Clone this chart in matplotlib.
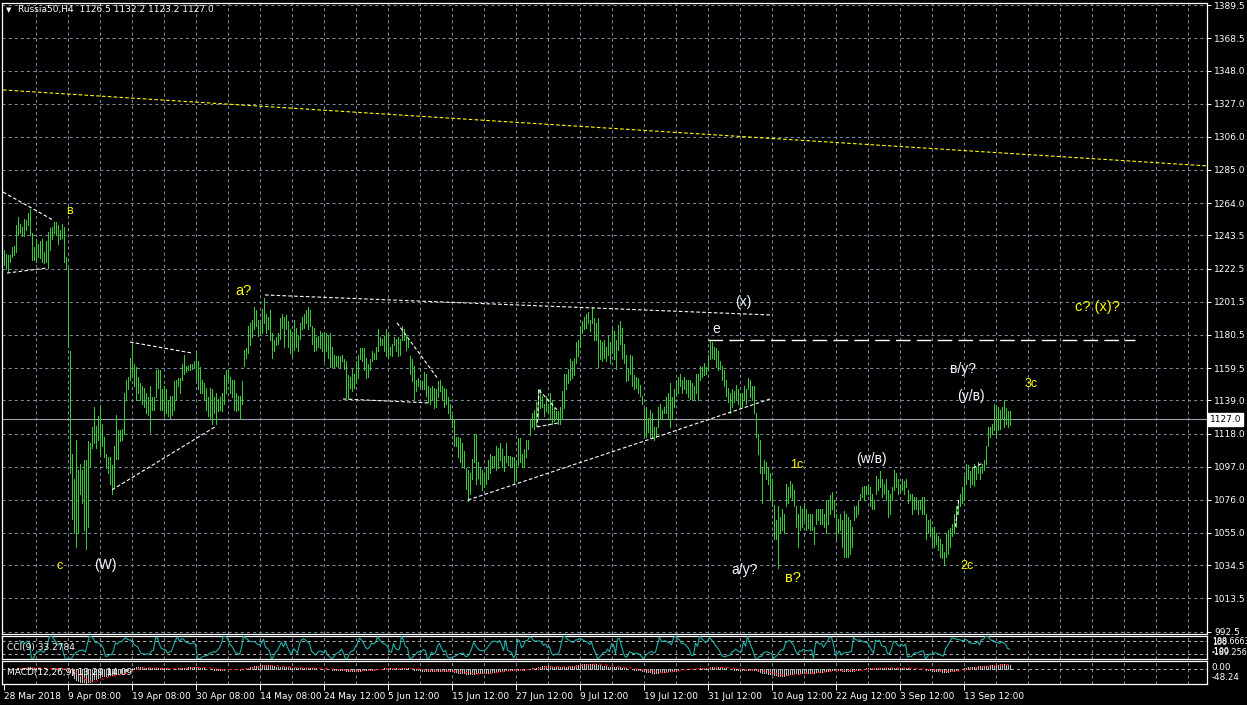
import numpy as np
import pandas as pd
import matplotlib
matplotlib.use("Agg")
import matplotlib.pyplot as plt
import matplotlib.transforms as mtransforms

# H4 bars (one entry per bar, left to right)
HIGHS = [
    1234, 1232, 1231, 1231, 1236, 1237, 1250, 1255, 1251, 1249,
    1254, 1253, 1258, 1260, 1245, 1236, 1241, 1238, 1240, 1241,
    1233, 1240, 1246, 1248, 1249, 1252, 1252, 1250, 1247, 1251,
    1249, 1230, 1223, 1170, 1105, 1089, 1114, 1095, 1099, 1095,
    1101, 1101, 1113, 1112, 1122, 1135, 1123, 1129, 1136, 1124,
    1116, 1105, 1103, 1103, 1098, 1110, 1130, 1120, 1120, 1121,
    1144, 1152, 1154, 1166, 1176, 1162, 1160, 1154, 1150, 1148,
    1147, 1144, 1141, 1148, 1141, 1141, 1158, 1159, 1158, 1146,
    1148, 1146, 1139, 1142, 1142, 1151, 1152, 1153, 1153, 1162,
    1168, 1161, 1161, 1162, 1162, 1164, 1170, 1164, 1160, 1152,
    1150, 1147, 1141, 1147, 1146, 1141, 1144, 1140, 1141, 1144,
    1155, 1158, 1158, 1154, 1152, 1152, 1144, 1142, 1142, 1151,
    1171, 1172, 1186, 1188, 1190, 1198, 1196, 1190, 1188, 1197,
    1204, 1194, 1192, 1196, 1182, 1177, 1179, 1182, 1191, 1194,
    1192, 1193, 1189, 1184, 1182, 1190, 1185, 1180, 1188, 1192,
    1194, 1196, 1198, 1196, 1186, 1185, 1179, 1180, 1183, 1182,
    1182, 1182, 1180, 1182, 1173, 1168, 1167, 1167, 1167, 1168,
    1165, 1164, 1155, 1154, 1159, 1156, 1164, 1168, 1172, 1172,
    1172, 1166, 1162, 1165, 1170, 1169, 1173, 1184, 1179, 1178,
    1180, 1184, 1182, 1173, 1175, 1179, 1178, 1179, 1178, 1186,
    1184, 1180, 1178, 1167, 1165, 1161, 1152, 1153, 1152, 1151,
    1157, 1156, 1148, 1147, 1148, 1147, 1146, 1151, 1152, 1148,
    1147, 1146, 1141, 1137, 1130, 1127, 1116, 1116, 1115, 1112,
    1107, 1096, 1095, 1093, 1102, 1118, 1118, 1100, 1096, 1095,
    1093, 1096, 1101, 1105, 1104, 1104, 1110, 1109, 1112, 1108,
    1104, 1112, 1104, 1104, 1103, 1103, 1101, 1115, 1115, 1105,
    1108, 1114, 1114, 1127, 1131, 1133, 1138, 1146, 1146, 1142,
    1137, 1142, 1137, 1144, 1139, 1134, 1132, 1132, 1135, 1145,
    1156, 1156, 1159, 1165, 1164, 1166, 1176, 1177, 1186, 1189,
    1192, 1194, 1195, 1190, 1198, 1191, 1188, 1191, 1177, 1176,
    1177, 1173, 1180, 1176, 1184, 1183, 1177, 1187, 1189, 1185,
    1175, 1168, 1159, 1168, 1167, 1155, 1154, 1153, 1149, 1142,
    1134, 1135, 1128, 1133, 1131, 1122, 1122, 1135, 1137, 1133,
    1135, 1141, 1144, 1150, 1141, 1146, 1152, 1154, 1156, 1152,
    1154, 1152, 1152, 1152, 1150, 1148, 1156, 1156, 1161, 1160,
    1163, 1160, 1168, 1177, 1176, 1173, 1172, 1170, 1164, 1161,
    1158, 1152, 1147, 1144, 1146, 1145, 1149, 1146, 1144, 1144,
    1148, 1146, 1153, 1152, 1148, 1148, 1131, 1118, 1114, 1097,
    1101, 1100, 1097, 1093, 1089, 1073, 1063, 1072, 1065, 1070,
    1067, 1086, 1084, 1088, 1086, 1082, 1072, 1067, 1072, 1070,
    1072, 1070, 1067, 1067, 1067, 1059, 1070, 1070, 1070, 1070,
    1067, 1076, 1076, 1079, 1081, 1076, 1067, 1064, 1067, 1063,
    1069, 1067, 1065, 1063, 1059, 1072, 1072, 1075, 1080, 1084,
    1085, 1085, 1086, 1084, 1080, 1076, 1091, 1089, 1094, 1089,
    1086, 1089, 1082, 1080, 1084, 1095, 1093, 1089, 1086, 1089,
    1088, 1089, 1082, 1080, 1080, 1078, 1078, 1076, 1075, 1078,
    1078, 1067, 1063, 1064, 1059, 1059, 1055, 1053, 1051, 1048,
    1043, 1055, 1057, 1058, 1061, 1067, 1072, 1076, 1080, 1084,
    1091, 1099, 1098, 1094, 1097, 1099, 1097, 1100, 1097, 1099,
    1101, 1110, 1122, 1122, 1124, 1137, 1136, 1135, 1133, 1135,
    1139, 1134, 1132, 1132.2,
]

LOWS = [
    1225, 1222, 1221, 1227, 1230, 1231, 1233, 1244, 1245, 1243,
    1243, 1247, 1250, 1244, 1228, 1228, 1227, 1230, 1229, 1227,
    1226, 1227, 1223, 1234, 1241, 1245, 1244, 1238, 1241, 1242,
    1227, 1222, 1173, 1093, 1064, 1055, 1046, 1055, 1080, 1074,
    1057, 1045, 1059, 1097, 1109, 1112, 1109, 1114, 1105, 1110,
    1103, 1096, 1093, 1086, 1080, 1084, 1102, 1102, 1113, 1114,
    1118, 1139, 1146, 1152, 1154, 1148, 1139, 1144, 1139, 1137,
    1135, 1131, 1130, 1119, 1133, 1133, 1141, 1147, 1133, 1133,
    1129, 1131, 1129, 1128, 1130, 1133, 1139, 1148, 1144, 1152,
    1156, 1157, 1158, 1158, 1159, 1160, 1152, 1146, 1144, 1144,
    1139, 1133, 1129, 1127, 1124, 1131, 1124, 1132, 1133, 1132,
    1137, 1144, 1152, 1144, 1141, 1133, 1132, 1133, 1128, 1137,
    1161, 1166, 1169, 1174, 1179, 1184, 1186, 1180, 1182, 1182,
    1188, 1182, 1184, 1177, 1166, 1170, 1174, 1175, 1178, 1185,
    1173, 1184, 1173, 1169, 1167, 1171, 1173, 1170, 1178, 1184,
    1185, 1188, 1184, 1186, 1175, 1170, 1171, 1173, 1172, 1170,
    1164, 1170, 1166, 1160, 1160, 1160, 1161, 1160, 1160, 1164,
    1159, 1141, 1140, 1147, 1145, 1147, 1150, 1153, 1165, 1164,
    1158, 1153, 1154, 1158, 1164, 1165, 1165, 1170, 1174, 1174,
    1170, 1167, 1166, 1168, 1167, 1174, 1170, 1167, 1168, 1177,
    1177, 1171, 1173, 1156, 1151, 1140, 1145, 1148, 1148, 1146,
    1146, 1142, 1138, 1137, 1140, 1134, 1135, 1141, 1145, 1139,
    1135, 1137, 1131, 1127, 1122, 1110, 1110, 1103, 1100, 1097,
    1096, 1083, 1075, 1080, 1089, 1100, 1086, 1090, 1086, 1082,
    1084, 1086, 1089, 1093, 1096, 1097, 1095, 1096, 1101, 1097,
    1094, 1100, 1098, 1097, 1097, 1086, 1089, 1098, 1100, 1097,
    1097, 1103, 1108, 1117, 1122, 1121, 1124, 1128, 1134, 1135,
    1129, 1132, 1131, 1127, 1124, 1126, 1127, 1124, 1124, 1128,
    1134, 1146, 1150, 1152, 1153, 1155, 1163, 1167, 1173, 1182,
    1184, 1185, 1188, 1183, 1188, 1177, 1177, 1160, 1165, 1164,
    1166, 1164, 1168, 1163, 1169, 1165, 1159, 1171, 1175, 1166,
    1163, 1151, 1152, 1156, 1148, 1146, 1147, 1144, 1142, 1137,
    1116, 1116, 1119, 1115, 1116, 1114, 1116, 1122, 1127, 1127,
    1131, 1131, 1127, 1122, 1127, 1135, 1142, 1144, 1148, 1144,
    1146, 1144, 1141, 1140, 1139, 1139, 1144, 1139, 1152, 1154,
    1155, 1156, 1158, 1165, 1166, 1165, 1160, 1158, 1159, 1152,
    1148, 1142, 1138, 1131, 1135, 1138, 1140, 1137, 1134, 1135,
    1139, 1137, 1146, 1141, 1139, 1131, 1116, 1105, 1093, 1074,
    1093, 1089, 1086, 1076, 1072, 1051, 1051, 1033, 1055, 1057,
    1055, 1072, 1074, 1078, 1076, 1072, 1059, 1046, 1057, 1059,
    1063, 1057, 1058, 1057, 1057, 1048, 1061, 1063, 1061, 1061,
    1059, 1055, 1061, 1067, 1070, 1065, 1051, 1055, 1057, 1046,
    1040, 1040, 1040, 1042, 1046, 1063, 1065, 1067, 1076, 1078,
    1076, 1080, 1080, 1072, 1070, 1070, 1080, 1082, 1084, 1078,
    1080, 1076, 1065, 1067, 1076, 1082, 1084, 1080, 1081, 1082,
    1080, 1084, 1074, 1076, 1067, 1070, 1070, 1067, 1070, 1067,
    1067, 1051, 1055, 1053, 1046, 1046, 1048, 1044, 1040, 1039,
    1035, 1040, 1042, 1046, 1053, 1055, 1059, 1067, 1072, 1074,
    1076, 1086, 1089, 1084, 1086, 1085, 1089, 1093, 1089, 1093,
    1095, 1099, 1110, 1116, 1118, 1120, 1116, 1120, 1121, 1127,
    1122, 1124, 1122, 1123.2,
]

PRICE_TICKS = [992.5, 1013.5, 1034.5, 1055.0, 1076.0, 1097.0, 1118.0, 1139.0,
               1159.5, 1180.5, 1201.5, 1222.5, 1243.5, 1264.0, 1285.0, 1306.0,
               1327.0, 1348.0, 1368.5, 1389.5]
DATE_LABELS = ["28 Mar 2018", "9 Apr 08:00", "19 Apr 08:00", "30 Apr 08:00",
               "14 May 08:00", "24 May 12:00", "5 Jun 12:00", "15 Jun 12:00",
               "27 Jun 12:00", "9 Jul 12:00", "19 Jul 12:00", "31 Jul 12:00",
               "10 Aug 12:00", "22 Aug 12:00", "3 Sep 12:00", "13 Sep 12:00"]
LAST_PRICE = 1127.0
HEADER = "Russia50,H4  1126.5 1132.2 1123.2 1127.0"
CCI_TITLE = "CCI(9) 33.2784"
MACD_TITLE = "MACD(12,26,9) 13.29 14.09"
CCI_RANGE = (-189.256, 188.6663)
CCI_SCALE = ["188.6663", "100", "-100", "-189.256"]
MACD_RANGE = (-48.24, 26.0)
MACD_SCALE = ["0.00", "-48.24"]

# analyst's drawings: (bar, price, bar, price)
WHITE_TRENDS = [
    (-0.25, 1271.0, 24.75, 1253.3),
    (1.75, 1219.7, 21.75, 1222.9),
    (63.25, 1176.0, 94.25, 1169.0),
    (54.25, 1082.3, 105.75, 1122.2),
    (130.75, 1205.8, 384.25, 1193.1),
    (169.75, 1139.9, 213.25, 1137.4),
    (196.75, 1188.1, 217.25, 1152.6),
    (232.25, 1075.9, 383.25, 1139.9),
    (267.75, 1145.6, 266.75, 1122.2),
    (266.75, 1122.2, 277.25, 1124.7),
    (267.75, 1145.6, 276.75, 1133.0),
    (476.0, 1059.0, 477.6, 1076.0),
    (484.75, 1096.2, 489.75, 1099.4),
]
YELLOW_TREND = (-0.25, 1335.7, 601.75, 1287.6)
E_LEVEL = (352.25, 565.75, 1177.3)

YELLOW_LABELS = [("в", 32.75, 1259.0), ("c", 28.25, 1034.1), ("a?", 119.75, 1208.3),
                 ("c? (x)?", 546.75, 1198.2), ("3c", 513.75, 1149.4),
                 ("1c", 396.75, 1098.1), ("в?", 394.75, 1026.5), ("2c", 481.75, 1034.1)]
WHITE_LABELS = [("(W)", 50.75, 1034.7), ("(x)", 369.75, 1201.4), ("e", 356.25, 1184.2),
                ("в/y?", 479.75, 1158.9), ("(y/в)", 483.75, 1141.8),
                ("(w/в)", 433.75, 1101.9), ("a/y?", 370.75, 1031.6)]
SMALL_LABELS = {"в", "c", "1c", "2c", "3c"}

GRID = "#778899"
BAR = "#32CD32"
FONT = "DejaVu Sans"
LABEL_FONT = "Liberation Sans"

plt.rcParams["lines.scale_dashes"] = False

high = np.array(HIGHS, dtype=float)
low = np.array(LOWS, dtype=float)
idx = np.arange(len(high))

# indicators computed from the bars (mid price stands in for the close)
mid = pd.Series((high + low) / 2)
sma = mid.rolling(9).mean()
mad = mid.rolling(9).apply(lambda x: np.mean(np.abs(x - x.mean())), raw=True)
cci = (mid - sma) / (0.015 * mad)
macd = mid.ewm(span=12, adjust=False).mean() - mid.ewm(span=26, adjust=False).mean()
signal = macd.rolling(9).mean()

W, H = 1247, 705


def box(left, top, right, bottom):
    return [left / W, 1 - bottom / H, (right - left) / W, (bottom - top) / H]


fig = plt.figure(figsize=(W / 100, H / 100), dpi=100, facecolor="black")
ax = fig.add_axes(box(2, 3, 1207, 634))
ax_cci = fig.add_axes(box(2, 636, 1207, 659), sharex=ax)
ax_macd = fig.add_axes(box(2, 661, 1207, 684), sharex=ax)

for a in (ax, ax_cci, ax_macd):
    a.set_facecolor("black")
    for s in a.spines.values():
        s.set_color("white")
        s.set_linewidth(0.9)
    for gx in range(16, 600, 16):
        a.axvline(gx, color=GRID, lw=0.75, ls=(0, (2.2, 2.2)), zorder=0)
    a.tick_params(axis="both", colors="white", labelsize=6.5, width=0.7, length=3)

ax.set_xlim(-0.75, 601.75)
ax.set_ylim(991.0, 1390.8)

for gy in PRICE_TICKS:
    ax.axhline(gy, color=GRID, lw=0.75, ls=(0, (2.2, 2.2)), zorder=0)
ax.yaxis.tick_right()
ax.set_yticks(PRICE_TICKS)
ax.set_yticklabels([f"{p:.1f}" for p in PRICE_TICKS], fontfamily=FONT)
ax.tick_params(axis="y", pad=2)
ax.tick_params(axis="x", bottom=False, labelbottom=False)

ax.vlines(idx, low, high, colors=BAR, lw=0.5, antialiased=False, zorder=3)

# last price line and marker
ax.axhline(LAST_PRICE, color="#9aa3ad", lw=0.8, zorder=2)
bt = mtransforms.blended_transform_factory(ax.transAxes, ax.transData)
ax.text(1.0025, LAST_PRICE, f"{LAST_PRICE:.1f}", transform=bt, ha="left", va="center",
        color="black", fontsize=6.5, fontfamily=FONT,
        bbox=dict(facecolor="white", edgecolor="white", pad=1.3), zorder=6)

for x0, y0, x1, y1 in WHITE_TRENDS:
    ax.plot([x0, x1], [y0, y1], color="white", lw=0.8, ls=(0, (2.6, 1.6)), zorder=4)
x0, y0, x1, y1 = YELLOW_TREND
ax.plot([x0, x1], [y0, y1], color="#FFFF00", lw=0.8, ls=(0, (2.6, 1.6)), zorder=4)
ax.plot([E_LEVEL[0], E_LEVEL[1]], [E_LEVEL[2], E_LEVEL[2]], color="white", lw=1.0,
        ls=(0, (10.5, 4.5)), zorder=4)

for text, bx, py in YELLOW_LABELS:
    size = 9 if text in SMALL_LABELS else 10.5
    ax.text(bx, py, text, color="#FFFF00", fontsize=size, fontfamily=LABEL_FONT,
            ha="center", va="center", zorder=5)
for text, bx, py in WHITE_LABELS:
    ax.text(bx, py, text, color="#F4F8FF", fontsize=10, fontfamily=LABEL_FONT,
            ha="center", va="center", zorder=5)

ax.text(0.0035, 0.989, "\u25BC", transform=ax.transAxes, color="white", fontsize=5,
        fontfamily=FONT, ha="left", va="center")
ax.text(0.013, 0.989, HEADER, transform=ax.transAxes, color="white", fontsize=6.5,
        fontfamily=FONT, ha="left", va="center")

# CCI panel
ax_cci.set_ylim(*CCI_RANGE)
for lvl in (100, -100):
    ax_cci.axhline(lvl, color="#b0b0b0", lw=0.75, ls=(0, (2.2, 2.2)), zorder=0)
ax_cci.plot(idx, cci.clip(*CCI_RANGE), color="#20B2AA", lw=0.8, zorder=3)
ax_cci.set_yticks([])
ax_cci.tick_params(axis="x", bottom=False, labelbottom=False)
ax_cci.text(0.004, 0.5, CCI_TITLE, transform=ax_cci.transAxes, color="white",
            fontsize=6.5, fontfamily=FONT, ha="left", va="center", zorder=6)
# the terminal prints these scale values on top of each other
for lbl, frac in zip(CCI_SCALE, (0.76, 0.72, 0.32, 0.28)):
    ax_cci.text(1.004, frac, lbl, transform=ax_cci.transAxes, color="white",
                fontsize=5.8, fontfamily=FONT, ha="left", va="center", clip_on=False)

# MACD panel
ax_macd.set_ylim(*MACD_RANGE)
ax_macd.axhline(0, color="#b0b0b0", lw=0.75, ls=(0, (2.2, 2.2)), zorder=0)
ax_macd.vlines(idx, 0, macd.clip(*MACD_RANGE), colors="#C0C0C0", lw=0.5,
               antialiased=False, zorder=3)
ax_macd.plot(idx, signal.clip(*MACD_RANGE), color="#FF0000", lw=0.8,
             ls=(0, (2.2, 2.2)), zorder=4)
ax_macd.set_yticks([])
ax_macd.text(0.004, 0.5, MACD_TITLE, transform=ax_macd.transAxes, color="white",
             fontsize=6.5, fontfamily=FONT, ha="left", va="center", zorder=6)
for lbl, frac in zip(MACD_SCALE, (0.72, 0.28)):
    ax_macd.text(1.004, frac, lbl, transform=ax_macd.transAxes, color="white",
                 fontsize=6.3, fontfamily=FONT, ha="left", va="center", clip_on=False)

ax_macd.set_xticks(np.arange(len(DATE_LABELS)) * 32)
ax_macd.set_xticklabels(DATE_LABELS, fontfamily=FONT, ha="left")
ax_macd.tick_params(axis="x", length=4, pad=2)

fig.savefig("out.png", dpi=100, facecolor="black")
